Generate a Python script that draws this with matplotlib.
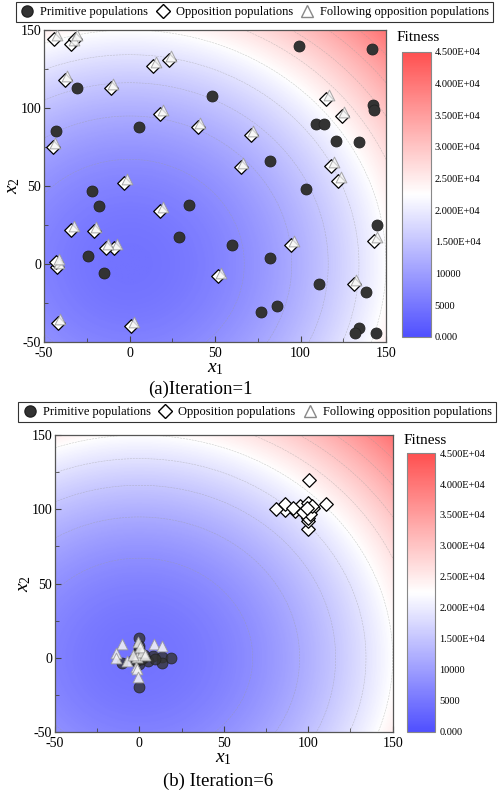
import numpy as np
import matplotlib
matplotlib.use("Agg")
import matplotlib.pyplot as plt
from matplotlib.colors import LinearSegmentedColormap, Normalize
from matplotlib.lines import Line2D
from matplotlib.ticker import MultipleLocator

plt.rcParams['font.family'] = ['Liberation Serif', 'DejaVu Serif']
plt.rcParams['mathtext.fontset'] = 'custom'
plt.rcParams['mathtext.rm'] = 'Liberation Serif'
plt.rcParams['mathtext.it'] = 'Liberation Serif:italic'
plt.rcParams['axes.unicode_minus'] = False

# ---------------------------------------------------------
# data

# (a) Iteration = 1
prim_x1 = [-43, -31, 5.6, 48, -22, -18, 35, 29, -24, -15, 99, 142, 142.5, 143, 109,
           114, 121, 134, 82, 103, 145, 60, 82, 111, 138, 86, 77, 134, 132, 144]
prim_y1 = [85, 113, 88, 108, 47, 37, 38, 17, 5, -6, 140, 138, 102, 99, 90,
           90, 79, 78, 66, 48, 25, 12, 4, -13, -18, -27, -31, -41, -44, -44]
opp_x1 = [143, 131, 94.4, 52, 122, 118, 65, 71, 124, 115, 1, -42, -42.5, -43, -9,
          -14, -21, -34, 18, -3, -45, 40, 18, -11, -38, 14, 23, -34, -32, -44]
opp_y1 = [15, -13, 12, -8, 53, 63, 62, 83, 95, 106, -40, -38, -2, 1, 10,
          10, 21, 22, 34, 52, 75, 88, 96, 113, 118, 127, 131, 141, 144, 144]
fol_x1 = [144.5, 132.5, 95.9, 53.5, 123.5, 119.5, 66.5, 72.5, 125.5, 116.5, 2.5, -40.5,
          -41, -41.5, -7.5, -12.5, -19.5, -32.5, 19.5, -1.5, -43.5, 41.5, 19.5, -9.5,
          -36.5, 15.5, 24.5, -32.5, -30.5, -42.5]
fol_y1 = [17.5, -10.5, 14.5, -5.5, 55.5, 65.5, 64.5, 85.5, 97.5, 108.5, -37.5, -35.5,
          0.5, 3.5, 12.5, 12.5, 23.5, 24.5, 36.5, 54.5, 77.5, 90.5, 98.5, 115.5,
          120.5, 129.5, 133.5, 143.5, 146.5, 146.5]

# (b) Iteration = 6
prim_x6 = [-0.5, -10.5, 7.8, 13.5, 19, 13.5, 0, 0, 2, -3, 0, -1, 5, 9, 0, -2, 3, 1]
prim_y6 = [-19.5, -3.5, 1.4, 0.5, 0, -3.5, 13, 8, 0, -1, 6, 3, -2, -1, -4, -2, 2, -1]
opp_x6 = [100.5, 110.5, 92.2, 86.5, 81, 86.5, 100, 100, 98, 103, 100, 101, 95, 91,
          100, 102, 97, 99]
opp_y6 = [119.5, 103.5, 98.6, 99.5, 100, 103.5, 87, 92, 100, 101, 94, 97, 102, 101,
          104, 102, 98, 101]
fol_x6 = [-10.5, -14, -14, -7.6, -0.7, 8.6, 13.7, -1.3, -1.7, -1.3, -0.7, -4, 1.3, 0.3, 3.3]
fol_y6 = [9.3, 3, 0, -2, 10.8, 9.3, 8, 0.7, -6, -7.6, -13, 1.8, 4, 7.4, 1.8]

cbar_ticks = [0, 5000, 10000, 15000, 20000, 25000, 30000, 35000, 40000, 45000]
cbar_labels = ['0.000', '5000', '10000', '1.500E+04', '2.000E+04', '2.500E+04',
               '3.000E+04', '3.500E+04', '4.000E+04', '4.500E+04']
legend_labels = ['Primitive populations', 'Opposition populations',
                 'Following opposition populations']

# ---------------------------------------------------------

cmap = LinearSegmentedColormap.from_list('fit', ['#5050ff', '#ffffff', '#ff5050'])
norm = Normalize(0, 45000)

g = np.linspace(-50, 150, 400)
X, Y = np.meshgrid(g, g)
Z = X ** 2 + Y ** 2

fig = plt.figure(figsize=(4.99, 7.96), dpi=100)


def panel(ax_rect, cb_rect, px, py, ox, oy, fx, fy, prim_alpha):
  ax = fig.add_axes(ax_rect)
  ax.imshow(Z, extent=(-50, 150, -50, 150), origin='lower', cmap=cmap, norm=norm,
            alpha=0.8, aspect='auto', interpolation='bilinear')
  ax.contour(X, Y, Z, levels=np.arange(4500, 45000, 4500), colors='#999999',
             linewidths=0.4, linestyles='--', alpha=0.5)
  ax.scatter(px, py, s=62, c='#333333', edgecolors='#222222', linewidths=0.6,
             alpha=prim_alpha, zorder=3)
  ax.scatter(ox, oy, s=48, marker='D', c='white', edgecolors='black', linewidths=0.9,
             zorder=4)
  ax.scatter(fx, fy, s=60, marker='^', c='#f6f6f6', edgecolors='#999999',
             linewidths=0.7, alpha=0.85, zorder=5)
  ax.set_xlim(-50, 150)
  ax.set_ylim(-50, 150)
  ax.xaxis.set_major_locator(MultipleLocator(50))
  ax.yaxis.set_major_locator(MultipleLocator(50))
  ax.xaxis.set_minor_locator(MultipleLocator(25))
  ax.yaxis.set_minor_locator(MultipleLocator(25))
  ax.tick_params(which='both', direction='in', labelsize=10, color='#444444')
  ax.tick_params(axis='x', pad=3.5)
  ax.tick_params(axis='y', pad=2)
  ax.tick_params(which='major', length=4)
  ax.tick_params(which='minor', length=3)
  for s in ax.spines.values():
    s.set_color('#555555')
    s.set_linewidth(0.9)
  ax.set_xlabel('$x_1$', fontsize=14, labelpad=0)
  ax.set_ylabel('$x_2$', fontsize=14, labelpad=-1)

  cax = fig.add_axes(cb_rect)
  sm = plt.cm.ScalarMappable(norm=norm, cmap=cmap)
  cb = fig.colorbar(sm, cax=cax, ticks=cbar_ticks)
  cb.ax.set_yticklabels(cbar_labels)
  cb.ax.tick_params(labelsize=7.5, length=0, pad=3)
  cb.outline.set_edgecolor('#888888')
  cb.outline.set_linewidth(0.8)
  return ax


def legend(center):
  handles = [
    Line2D([], [], ls='none', marker='o', ms=8, mfc='#333333', mec='#222222'),
    Line2D([], [], ls='none', marker='D', ms=7, mfc='white', mec='black'),
    Line2D([], [], ls='none', marker='^', ms=8.5, mfc='white', mec='#888888'),
  ]
  leg = fig.legend(handles, legend_labels, loc='center', bbox_to_anchor=center, ncol=3,
                   fontsize=9, frameon=True, fancybox=False, handlelength=1.2,
                   handletextpad=0.45, columnspacing=0.55, borderpad=0.3,
                   borderaxespad=0)
  leg.get_frame().set_edgecolor('black')
  leg.get_frame().set_linewidth(0.8)


panel([0.0882, 0.5704, 0.6854, 0.3919], [0.805, 0.577, 0.058, 0.358],
      prim_x1, prim_y1, opp_x1, opp_y1, fol_x1, fol_y1, 1.0)
panel([0.110, 0.0804, 0.677, 0.373], [0.815, 0.0808, 0.057, 0.350],
      prim_x6, prim_y6, opp_x6, opp_y6, fol_x6, fol_y6, 0.8)

legend((0.51, 0.985))
legend((0.515, 0.4825))

fig.text(0.837, 0.953, 'Fitness', fontsize=11, ha='center', va='center')
fig.text(0.852, 0.447, 'Fitness', fontsize=11, ha='center', va='center')
fig.text(0.401, 0.511, '(a)Iteration=1', fontsize=13.5, ha='center', va='center')
fig.text(0.437, 0.019, '(b) Iteration=6', fontsize=13.5, ha='center', va='center')

fig.savefig('out.png', dpi=100)
